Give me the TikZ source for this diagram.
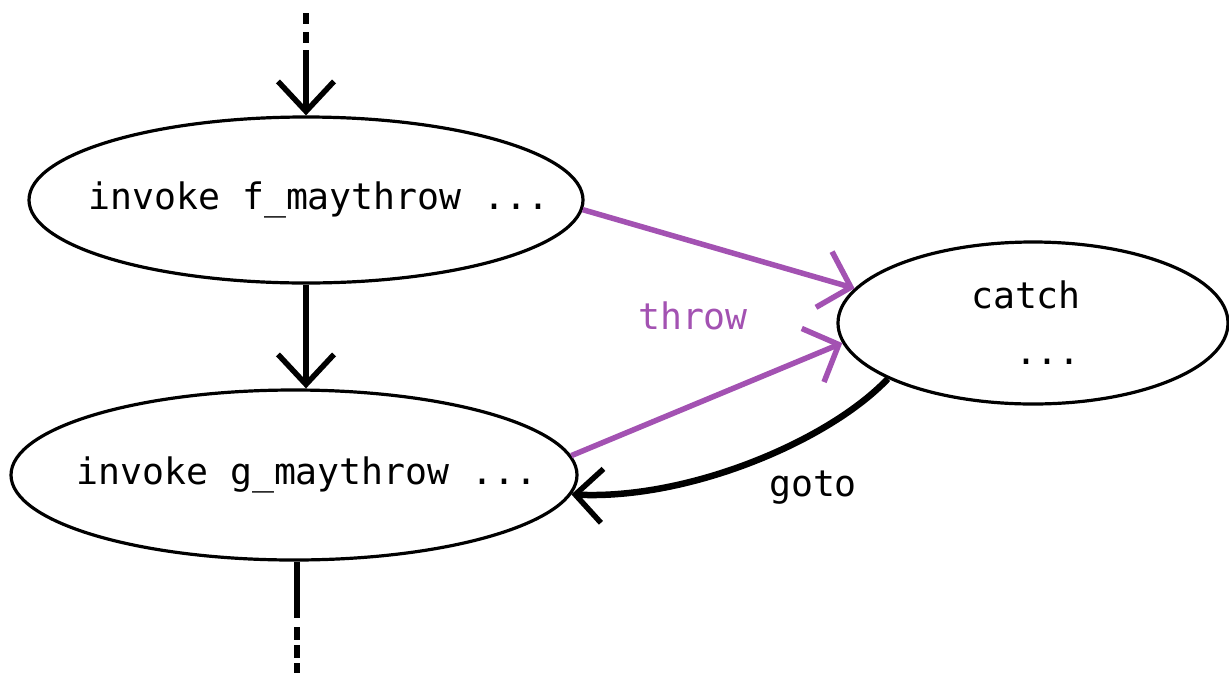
\documentclass[tikz,border=0pt]{standalone}
\usepackage{fontspec}
\newfontfamily\codefont{DejaVu Sans Mono}
\usetikzlibrary{arrows.meta,shapes.geometric}
\definecolor{throwpurple}{RGB}{163,82,178}
\begin{document}
\begin{tikzpicture}[x=1pt,y=-1pt,
  codetext/.style={font={\codefont\fontsize{36.5}{56}\selectfont}},
  block/.style={ellipse,draw,line width=3.2pt,inner sep=0pt,codetext},
  flow/.style={line width=5.5pt,-{Straight Barb[length=30pt,width=56pt,line width=5.5pt]}},
  stub/.style={line width=5.5pt},
  throwarrow/.style={throwpurple,line width=5.5pt,-{Straight Barb[length=28pt,width=58pt,line width=5.5pt]}},
  gotoarrow/.style={line width=6.5pt,-{Straight Barb[length=27pt,width=54pt,line width=5.5pt]}}]
\useasboundingbox (0,0) rectangle (1229,673);

% the three blocks
\node[block,minimum width=554pt,minimum height=166pt] (f) at (306,200)
  {\makebox[0pt]{\hspace*{26pt}invoke f\_maythrow ...}};
\node[block,minimum width=566pt,minimum height=170pt] (g) at (294,475)
  {\makebox[0pt]{\hspace*{26pt}invoke g\_maythrow ...}};
\node[block,minimum width=390pt,minimum height=162pt,align=left] (c) at (1033,323)
  {catch\hspace*{14pt}\\\hspace*{1.204em}...};

% incoming control flow
\coordinate (in0) at (306,13);
\coordinate (in1) at (306,45);
\coordinate (in2) at (306,50);
\draw[stub,dash pattern=on 11pt off 8pt] (in0) -- (in1);
\draw[flow] (in2) -- (f.north);

% fall-through from f to g
\draw[flow] (f.south) -- (f.south |- g.north);

% outgoing control flow
\coordinate (out1) at (297,618);
\coordinate (out2) at (297,627);
\coordinate (out3) at (297,673);
\draw[stub] (g.south -| out1) -- (out1);
\draw[stub,dash pattern=on 13pt off 5pt] (out2) -- (out3);

% exceptional edges
\draw[throwarrow] (f.-2.5) -- (c.169);
\draw[throwarrow] (g.4) -- (c.186);
\node[codetext,text=throwpurple] (throwlbl) at (693,316) {throw};

% back edge from the handler
\draw[gotoarrow] (c.201) .. controls (830,440) and (690,500) .. (g.-4);
\node[codetext] (gotolbl) at (813,488) {goto};
\end{tikzpicture}
\end{document}
